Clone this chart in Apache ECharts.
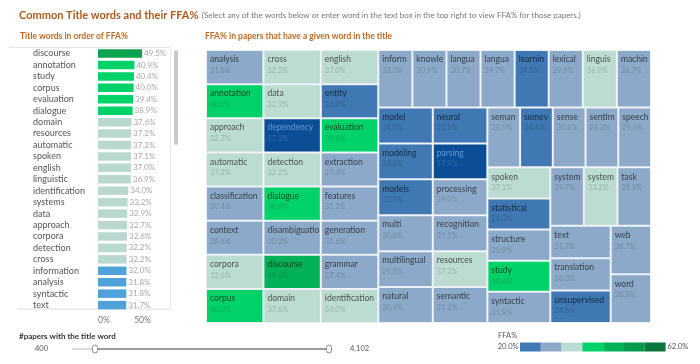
<!DOCTYPE html>
<html><head><meta charset="utf-8">
<script src="https://cdn.jsdelivr.net/npm/echarts@6/dist/echarts.min.js"></script>
<style>html,body{margin:0;padding:0;background:#fff}#c{width:700px;height:364px}</style>
</head><body><div id="c"></div>
<script>
// ---- Treemap data (alphabetical order, equal-sized cells) ----
const treeWords = ['analysis','annotation','approach','automatic','classification','context','corpora','corpus',
 'cross','data','dependency','detection','dialogue','disambiguation','discourse','domain',
 'english','entity','evaluation','extraction','features','generation','grammar','identification',
 'information','knowledge','language','languages','learning','lexical','linguistic','machine',
 'model','modeling','models','multi','multilingual','natural',
 'neural','parsing','processing','recognition','resources','semantic',
 'semantics','semeval','sense','sentiment','speech',
 'spoken','statistical','structure','study','syntactic',
 'system','systems','task','text','translation','unsupervised','web','word'];
const treeLabels = ['analysis','annotation','approach','automatic','classification','context','corpora','corpus',
 'cross','data','dependency','detection','dialogue','disambiguatio','discourse','domain',
 'english','entity','evaluation','extraction','features','generation','grammar','identification',
 'inform','knowle','langua','langua','learnin','lexical','linguis','machin',
 'model','modeling','models','multi','multilingual','natural',
 'neural','parsing','processing','recognition','resources','semantic',
 'seman','semev','sense','sentim','speech',
 'spoken','statistical','structure','study','syntactic',
 'system','system','task','text','translation','unsupervised','web','word'];
const treeFFA = [31.8,40.9,32.7,37.2,30.4,28.6,32.6,40.0,
 32.2,32.9,17.2,32.2,38.9,30.2,49.5,37.6,
 37.0,23.8,39.4,27.4,31.2,31.6,27.4,34.0,
 31.98,30.9,30.7,29.7,24.1,29.9,36.9,26.7,
 24.0,24.2,23.9,30.6,29.5,30.4,
 23.5,17.9,29.0,29.5,37.2,31.2,
 28.5,24.4,30.8,28.2,29.6,
 37.1,24.3,30.9,40.4,31.8,
 29.7,33.2,28.8,31.7,26.3,24.6,26.7,28.8];
const treeSize = treeWords.map(() => 1);

// ---- Bar list data ----
const barWords = ['discourse','annotation','study','corpus','evaluation','dialogue','domain','resources','automatic',
 'spoken','english','linguistic','identification','systems','data','approach','corpora','detection','cross',
 'information','analysis','syntactic','text'];
const barValues = [49.5,40.9,40.4,40.0,39.4,38.9,37.6,37.2,37.2,37.1,37.0,36.9,34.0,33.2,32.9,32.7,32.6,32.2,32.2,
 31.98,31.8,31.8,31.7];

// ---- Colour steps ----
const stepUpper = [20,26,32,38,44,50,56,62];
const treeColors = ['#0b4e96','#3f78b3','#8da9c9','#bddcd1','#00d26a','#03b258','#079a4c','#0b773d'];
const barColors  = ['#0b4e96','#4fa3da','#4fa3da','#b9d8cf','#00d26a','#0da24f','#079a4c','#0b773d'];
const xTicks = [0, 50];
const legendMinLabel = '20.0%', legendMaxLabel = '62.0%';

function stepIndex(v){ for (let i=0;i<stepUpper.length;i++){ if (v <= stepUpper[i]) return i; } return stepUpper.length-1; }

const FONT = 'Lato';
function richFor(v){
  const i = stepIndex(v);
  const dark = i === 0;
  return {
    n: {fontSize: 8.5, fontFamily: FONT, lineHeight: 11, color: dark ? 'rgba(120,170,230,0.8)' : 'rgba(0,0,0,0.65)'},
    v: {fontSize: 7.5, fontFamily: FONT, lineHeight: 11, color: dark ? 'rgba(255,255,255,0.15)' : 'rgba(0,0,0,0.2)'}
  };
}

const treeData = treeWords.map((w, i) => ({
  name: w, id: 'w' + i, display: treeLabels[i], ffa: treeFFA[i],
  value: [treeSize[i], treeFFA[i]],
  itemStyle: {color: treeColors[stepIndex(treeFFA[i])]},
  label: {rich: richFor(treeFFA[i])}
}));

const barData = barValues.map(v => ({value: v, itemStyle: {color: barColors[stepIndex(v)]}}));

const chart = echarts.init(document.getElementById('c'), null, {renderer: 'canvas'});

const swatches = [];
for (let i = 1; i < stepUpper.length; i++) {
  swatches.push({type: 'rect', shape: {x: 520 + (i-1)*20.8, y: 342.5, width: 20.8, height: 9},
    style: {fill: treeColors[i]}, silent: true});
}

chart.setOption({
  animation: false,
  textStyle: {fontFamily: FONT},
  grid: {left: 98, top: 47.8, width: 44.5, height: 263},
  xAxis: {type: 'value', min: xTicks[0], max: xTicks[1], interval: xTicks[1]-xTicks[0],
    axisLine: {show: false}, axisTick: {show: false}, splitLine: {show: false},
    axisLabel: {formatter: v => v + '%', fontSize: 8.5, color: '#777', margin: 5, fontFamily: FONT, alignMinLabel: 'left'}},
  yAxis: {type: 'category', data: barWords, inverse: true,
    axisLine: {show: false}, axisTick: {show: false},
    axisLabel: {interval: 0, align: 'left', margin: 65, fontSize: 9, color: '#555', fontFamily: FONT}},
  series: [
    {type: 'bar', data: barData, barWidth: 8.5, silent: true,
     label: {show: true, position: 'right', distance: 2, fontSize: 8, color: '#a8a8a8', fontFamily: FONT,
       formatter: p => p.value.toFixed(1) + '%'}},
    {type: 'treemap', left: 206, top: 50, width: 445, height: 273,
     roam: false, nodeClick: false, sort: false, breadcrumb: {show: false}, silent: true,
     data: treeData,
     label: {show: true, position: 'insideTopLeft', distance: 3, overflow: 'none',
       fontSize: 8, lineHeight: 11, padding: 0,
       formatter: p => '{n|' + p.data.display + '}\n{v|' + p.data.ffa.toFixed(1) + '%}'},
     levels: [
       {itemStyle: {borderWidth: 0, gapWidth: 0}},
       {itemStyle: {borderWidth: 1, borderColor: '#edf1f5', gapWidth: 0}}
     ]}
  ],
  graphic: [
    {type: 'text', x: 19, y: 15, style: {
      text: '{t|Common Title words and their FFA%} {s|(Select any of the words below or enter word in the text box in the top right to view FFA% for those papers.)}',
      rich: {t: {font: 'bold 11px Lato', fill: '#ad5a1f'}, s: {font: '8px Lato', fill: '#777'}},
      verticalAlign: 'middle'}},
    {type: 'text', x: 20, y: 36, style: {text: 'Title words in order of FFA%', font: 'bold 8.5px Lato', fill: '#bd6a25', verticalAlign: 'middle'}},
    {type: 'text', x: 205, y: 36, style: {text: 'FFA% in papers that have a given word in the title', font: 'bold 8.5px Lato', fill: '#bd6a25', verticalAlign: 'middle'}},
    {type: 'line', shape: {x1: 9, y1: 47.5, x2: 170, y2: 47.5}, style: {stroke: '#e6e6e6', lineWidth: 1}},
    {type: 'line', shape: {x1: 170.5, y1: 47.5, x2: 170.5, y2: 309}, style: {stroke: '#e6e6e6', lineWidth: 1}},
    {type: 'line', shape: {x1: 18, y1: 309, x2: 170.5, y2: 309}, style: {stroke: '#dcdcdc', lineWidth: 1}},
    {type: 'rect', shape: {x: 174, y: 50, width: 4, height: 95, r: 2}, style: {fill: '#c9c9c9'}},
    {type: 'text', x: 19, y: 336, style: {text: '#papers with the title word', font: 'bold 8px Lato', fill: '#333', verticalAlign: 'middle'}},
    {type: 'text', x: 41.5, y: 348.5, style: {text: '400', font: '7.5px Lato', fill: '#555', align: 'center', verticalAlign: 'middle'}},
    {type: 'line', shape: {x1: 72, y1: 349, x2: 95, y2: 349}, style: {stroke: '#dadada', lineWidth: 2}},
    {type: 'line', shape: {x1: 95, y1: 349, x2: 329, y2: 349}, style: {stroke: '#9b9b9b', lineWidth: 2}},
    {type: 'rect', shape: {x: 92.5, y: 345, width: 5, height: 8, r: 2.5}, style: {fill: '#fff', stroke: '#888', lineWidth: 1}},
    {type: 'rect', shape: {x: 326.5, y: 345, width: 5, height: 8, r: 2.5}, style: {fill: '#fff', stroke: '#888', lineWidth: 1}},
    {type: 'text', x: 350, y: 348.5, style: {text: '4,102', font: '7.5px Lato', fill: '#555', verticalAlign: 'middle'}},
    {type: 'text', x: 498, y: 336, style: {text: 'FFA%', font: '7.5px Lato', fill: '#555', verticalAlign: 'middle'}},
    {type: 'text', x: 518.5, y: 347, style: {text: legendMinLabel, font: '7.5px Lato', fill: '#555', align: 'right', verticalAlign: 'middle'}},
    {type: 'text', x: 667.5, y: 347, style: {text: legendMaxLabel, font: '7.5px Lato', fill: '#555', verticalAlign: 'middle'}}
  ].concat(swatches)
});
</script></body></html>
